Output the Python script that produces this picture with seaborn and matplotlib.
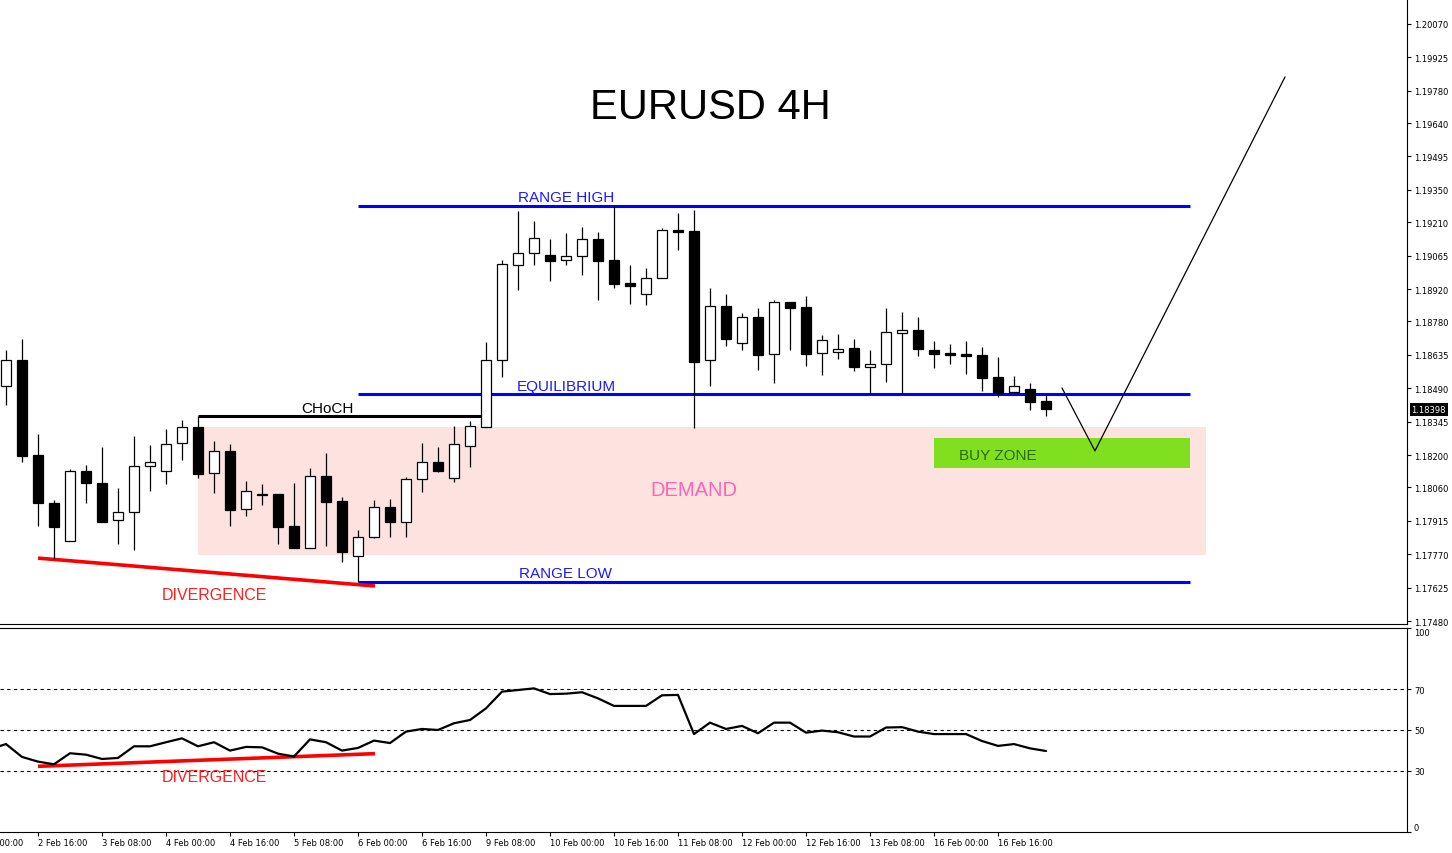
import numpy as np
import matplotlib
matplotlib.use("Agg")
import matplotlib.pyplot as plt
import matplotlib.transforms as mtransforms
import seaborn as sns

# 4H candles, 2 Feb 08:00 .. 16 Feb 20:00
opens = [1.18500, 1.18612, 1.18200, 1.17992, 1.17827, 1.18131, 1.18079, 1.17918, 1.17953, 1.18152,
         1.18131, 1.18252, 1.18322, 1.18122, 1.18218, 1.17966, 1.18027, 1.18031, 1.17892, 1.17797,
         1.18109, 1.18001, 1.17762, 1.17844, 1.17975, 1.17910, 1.18096, 1.18170, 1.18100, 1.18239,
         1.18322, 1.18612, 1.19025, 1.19077, 1.19068, 1.19046, 1.19064, 1.19137, 1.19046, 1.18946,
         1.18899, 1.18968, 1.19176, 1.19172, 1.18612, 1.18847, 1.18686, 1.18799, 1.18638, 1.18864,
         1.18842, 1.18643, 1.18647, 1.18664, 1.18582, 1.18595, 1.18729, 1.18742, 1.18656, 1.18643,
         1.18638, 1.18634, 1.18539, 1.18474, 1.18487, 1.18434]
highs = [1.18656, 1.18703, 1.18291, 1.18005, 1.18139, 1.18157, 1.18235, 1.18057, 1.18283, 1.18244,
         1.18313, 1.18352, 1.18369, 1.18261, 1.18248, 1.18087, 1.18074, 1.18031, 1.18079, 1.18144,
         1.18209, 1.18018, 1.17875, 1.18005, 1.18009, 1.18105, 1.18252, 1.18235, 1.18326, 1.18348,
         1.18690, 1.19046, 1.19259, 1.19215, 1.19137, 1.19163, 1.19189, 1.19168, 1.19280, 1.19025,
         1.19011, 1.19185, 1.19250, 1.19263, 1.18925, 1.18899, 1.18816, 1.18838, 1.18873, 1.18864,
         1.18890, 1.18721, 1.18725, 1.18703, 1.18656, 1.18838, 1.18821, 1.18799, 1.18695, 1.18682,
         1.18695, 1.18669, 1.18625, 1.18543, 1.18513, 1.18465]
lows = [1.18417, 1.18170, 1.17892, 1.17749, 1.17827, 1.17992, 1.17910, 1.17814, 1.17788, 1.18044,
        1.18074, 1.18178, 1.18100, 1.18035, 1.17892, 1.17936, 1.17983, 1.17814, 1.17797, 1.17797,
        1.17805, 1.17736, 1.17649, 1.17840, 1.17844, 1.17844, 1.18040, 1.18126, 1.18083, 1.18148,
        1.18322, 1.18539, 1.18916, 1.19025, 1.18955, 1.19025, 1.18981, 1.18873, 1.18925, 1.18855,
        1.18851, 1.18968, 1.19090, 1.18317, 1.18500, 1.18673, 1.18656, 1.18569, 1.18513, 1.18656,
        1.18586, 1.18547, 1.18617, 1.18565, 1.18465, 1.18517, 1.18465, 1.18630, 1.18578, 1.18595,
        1.18552, 1.18478, 1.18452, 1.18474, 1.18395, 1.18369]
closes = [1.18612, 1.18196, 1.17992, 1.17888, 1.18131, 1.18079, 1.17910, 1.17953, 1.18152, 1.18170,
          1.18248, 1.18322, 1.18118, 1.18218, 1.17962, 1.18044, 1.18027, 1.17888, 1.17797, 1.18109,
          1.17996, 1.17779, 1.17844, 1.17975, 1.17910, 1.18096, 1.18170, 1.18131, 1.18248, 1.18326,
          1.18612, 1.19029, 1.19077, 1.19142, 1.19042, 1.19064, 1.19137, 1.19042, 1.18942, 1.18933,
          1.18968, 1.19176, 1.19168, 1.18604, 1.18847, 1.18703, 1.18799, 1.18634, 1.18864, 1.18838,
          1.18638, 1.18699, 1.18660, 1.18582, 1.18595, 1.18734, 1.18742, 1.18660, 1.18638, 1.18634,
          1.18630, 1.18534, 1.18469, 1.18500, 1.18430, 1.18398]

# RSI, starting one bar before the first visible candle
rsi_values = [40.6, 43.1, 36.8, 34.5, 33.2, 38.6, 37.9, 35.8, 36.3, 42.0, 42.0,
              44.0, 45.9, 42.0, 44.0, 39.9, 41.7, 41.5, 38.4, 37.0, 45.4,
              44.0, 39.9, 41.2, 44.8, 43.6, 49.2, 50.5, 50.0, 53.3, 54.9,
              60.6, 68.8, 69.6, 70.4, 67.6, 67.8, 68.5, 65.5, 61.8, 61.8,
              61.8, 67.0, 67.2, 48.0, 53.6, 50.5, 52.0, 48.4, 53.6, 53.6,
              48.7, 49.7, 48.9, 46.8, 46.8, 51.2, 51.4, 49.2, 48.0, 48.0,
              48.0, 44.6, 42.2, 43.1, 41.0, 39.7]

time_labels = ["2 Feb 00:00", "2 Feb 16:00", "3 Feb 08:00", "4 Feb 00:00", "4 Feb 16:00",
               "5 Feb 08:00", "6 Feb 00:00", "6 Feb 16:00", "9 Feb 08:00", "10 Feb 00:00",
               "10 Feb 16:00", "11 Feb 08:00", "12 Feb 00:00", "12 Feb 16:00", "13 Feb 08:00",
               "16 Feb 00:00", "16 Feb 16:00"]
price_ticks = [1.20070, 1.19925, 1.19780, 1.19640, 1.19495, 1.19350, 1.19210, 1.19065, 1.18920,
               1.18780, 1.18635, 1.18490, 1.18345, 1.18200, 1.18060, 1.17915, 1.17770, 1.17625,
               1.17480]
rsi_ticks = [0, 30, 50, 70, 100]

range_high = 1.19280
equilibrium = 1.18465
range_low = 1.17649
choch_level = 1.18369
demand_zone = (1.17766, 1.18322)
buy_zone = (1.18144, 1.18274)
price_div = [1.17753, 1.17632]
rsi_div = [32.2, 38.4]
proj_x = [66, 68.06, 79.94]
proj_y = [1.18491, 1.18218, 1.19840]
last_price = 1.18398

sns.set_style("white")
plt.rcParams["font.family"] = ["DejaVu Sans"]
plt.rcParams["text.color"] = "black"
plt.rcParams["xtick.color"] = "black"
plt.rcParams["ytick.color"] = "black"
label_font = "Liberation Sans"

XLIM = (-0.375, 87.5625)

fig = plt.figure(figsize=(14.52, 8.54), dpi=100)
ax = fig.add_axes([0, 0.2681, 0.969, 0.7319])
ax_rsi = fig.add_axes([0, 0.02459, 0.969, 0.2389], sharex=ax)

# ---- price panel ----
idx = np.arange(len(opens))
o = np.array(opens)
c = np.array(closes)
up = c >= o
body_low = np.minimum(o, c)
body_h = np.maximum(np.abs(c - o), 0.00002)

ax.fill_between([12, 75], demand_zone[0], demand_zone[1], color="#fde3e0", lw=0, zorder=1)
ax.fill_between([58, 74], buy_zone[0], buy_zone[1], color="#80e020", lw=0, zorder=1.5)

for lvl in [range_high, equilibrium, range_low]:
    ax.hlines(lvl, 22, 74, color="#0000ff", lw=2.2, zorder=2.5)
ax.hlines(choch_level, 12, 29.7, color="black", lw=2.2, zorder=2.5)
ax.plot([2, 23.06], price_div, color="#ff0000", lw=2.6, zorder=2.6, solid_capstyle="butt")

ax.vlines(idx, lows, highs, color="black", lw=0.9, zorder=3)
ax.bar(idx, body_h, bottom=body_low, width=0.6,
       color=np.where(up, "white", "black"), edgecolor="black", linewidth=0.9, zorder=4)

ax.plot(proj_x, proj_y, color="black", lw=0.9, zorder=5)

ax.text(44, 1.19662, "EURUSD 4H", fontsize=30, family=label_font, color="black",
        ha="center", va="baseline")
for y, txt in [(1.19304, "RANGE HIGH"), (1.18484, "EQUILIBRIUM"), (1.17669, "RANGE LOW")]:
    ax.text(35, y, txt, fontsize=11, family=label_font, color="#1a1aff", ha="center", va="baseline")
ax.text(20.06, 1.18385, "CHoCH", fontsize=11, family=label_font, color="black", ha="center", va="baseline")
ax.text(43, 1.18027, "DEMAND", fontsize=14.5, family=label_font, color="#ff66b3", ha="center", va="baseline")
ax.text(62, 1.18181, "BUY ZONE", fontsize=11, family=label_font, color="#2a6a10", ha="center", va="baseline")
ax.text(13, 1.17575, "DIVERGENCE", fontsize=11.5, family=label_font, color="#ff2020", ha="center", va="baseline")

ax.set_ylim(1.17467, 1.20178)
ax.yaxis.tick_right()
ax.set_yticks(price_ticks)
ax.set_yticklabels([f"{p:.5f}" for p in price_ticks])
ax.tick_params(axis="y", direction="out", length=3, width=0.8, labelsize=6, pad=2, right=True)
ax.tick_params(axis="x", bottom=False, labelbottom=False)
for side in ["left", "top"]:
    ax.spines[side].set_visible(False)
for side in ["right", "bottom"]:
    ax.spines[side].set_color("black")
    ax.spines[side].set_linewidth(0.8)

trans = mtransforms.blended_transform_factory(ax.transAxes, ax.transData)
ax.text(1.0032, last_price, f"{last_price:.5f}", transform=trans, fontsize=6, color="white",
        ha="left", va="center", bbox=dict(facecolor="black", edgecolor="none", pad=1.2))

# ---- RSI panel ----
rsi_idx = np.arange(-1, len(rsi_values) - 1)
for lvl in [30, 50, 70]:
    ax_rsi.axhline(lvl, color="black", lw=0.8, linestyle=(0, (3, 3)), zorder=1)
sns.lineplot(x=rsi_idx, y=rsi_values, ax=ax_rsi, color="black", lw=1.6, zorder=3)
ax_rsi.plot([2, 23.06], rsi_div, color="#ff0000", lw=2.6, zorder=2, solid_capstyle="butt")
ax_rsi.text(13, 24.9, "DIVERGENCE", fontsize=11.5, family=label_font, color="#ff2020", ha="center", va="baseline")

ax_rsi.set_ylim(0, 100)
ax_rsi.set_xlabel("")
ax_rsi.set_ylabel("")
ax_rsi.yaxis.tick_right()
ax_rsi.set_yticks(rsi_ticks)
ax_rsi.set_yticklabels([str(t) for t in rsi_ticks])
ax_rsi.tick_params(axis="y", direction="out", length=3, width=0.8, labelsize=6, pad=2, right=True)
for lab in ax_rsi.get_yticklabels():
    if lab.get_text() == "100":
        lab.set_va("top")
    elif lab.get_text() == "0":
        lab.set_va("bottom")

tick_pos = list(range(-2, 63, 4))
ax_rsi.set_xticks(tick_pos)
ax_rsi.set_xticklabels([])
ax_rsi.tick_params(axis="x", direction="out", length=3, width=0.8, bottom=True)
for pos, lab in zip(tick_pos, time_labels):
    ax_rsi.annotate(lab, xy=(pos, 0), xycoords=("data", "axes fraction"), xytext=(0, -4),
                    textcoords="offset points", ha="left", va="top", fontsize=6,
                    annotation_clip=False)

ax_rsi.spines["left"].set_visible(False)
for side in ["right", "bottom", "top"]:
    ax_rsi.spines[side].set_color("black")
    ax_rsi.spines[side].set_linewidth(0.8)

# ticks outside the view would otherwise widen the limits
ax.set_xlim(*XLIM)
ax_rsi.set_xlim(*XLIM)

fig.savefig("out.png", dpi=100)
